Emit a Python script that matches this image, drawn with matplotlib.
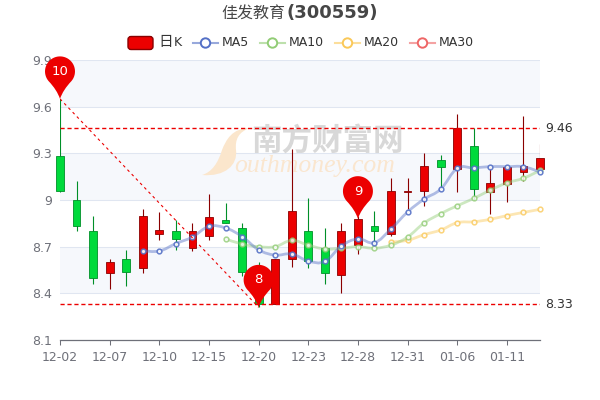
import numpy as np
import matplotlib
matplotlib.use("Agg")
import matplotlib.pyplot as plt
from matplotlib.path import Path
from matplotlib.patches import PathPatch, Circle, FancyBboxPatch
from matplotlib.transforms import Affine2D

plt.rcParams["font.family"] = ["DejaVu Sans", "Noto Sans CJK SC"]

opens = [9.28, 9.00, 8.80, 8.53, 8.62, 8.56, 8.78, 8.80, 8.69, 8.77, 8.87, 8.82, 8.50, 8.33, 8.62,
         8.80, 8.69, 8.52, 8.71, 8.83, 8.78, 9.05, 9.06, 9.26, 9.20, 9.35, 9.05, 9.10, 9.18, 9.20]
closes = [9.06, 8.83, 8.50, 8.60, 8.54, 8.90, 8.81, 8.75, 8.80, 8.89, 8.85, 8.54, 8.33, 8.62, 8.93,
          8.61, 8.53, 8.80, 8.88, 8.80, 9.06, 9.06, 9.22, 9.21, 9.46, 9.07, 9.11, 9.21, 9.22, 9.27]
highs = [9.65, 9.12, 8.90, 8.62, 8.68, 8.94, 8.92, 8.87, 8.85, 9.04, 8.98, 8.85, 8.60, 8.62, 9.33,
         9.01, 8.82, 8.85, 8.90, 8.93, 9.14, 9.14, 9.30, 9.29, 9.55, 9.46, 9.21, 9.21, 9.54, 9.36]
lows = [9.05, 8.80, 8.46, 8.43, 8.45, 8.53, 8.74, 8.68, 8.67, 8.74, 8.85, 8.51, 8.31, 8.33, 8.57,
        8.56, 8.46, 8.40, 8.65, 8.72, 8.77, 8.94, 8.96, 9.07, 9.05, 9.00, 8.91, 8.99, 9.12, 9.20]

ma5 = [8.674, 8.672, 8.72, 8.762, 8.83, 8.82, 8.765, 8.68, 8.646, 8.653, 8.608, 8.605, 8.704,
       8.75, 8.726, 8.814, 8.923, 9.006, 9.07, 9.203, 9.206, 9.215, 9.214, 9.214, 9.18]
ma10 = [8.75, 8.717, 8.70, 8.70, 8.74, 8.71, 8.685, 8.69, 8.70, 8.69, 8.71, 8.762, 8.852, 8.912,
        8.963, 9.01, 9.064, 9.11, 9.14, 9.19]
ma20 = [8.73, 8.741, 8.777, 8.807, 8.854, 8.86, 8.876, 8.90, 8.92, 8.94]

tick_pos = [0, 3, 6, 9, 12, 15, 18, 21, 24, 27]
tick_labels = ["12-02", "12-07", "12-10", "12-15", "12-20", "12-23", "12-28", "12-31", "01-06", "01-11"]
y_ticks = [8.1, 8.4, 8.7, 9.0, 9.3, 9.6, 9.9]
y_labels = ["8.1", "8.4", "8.7", "9", "9.3", "9.6", "9.9"]
mark_high = 9.46
mark_low = 8.33
# index, price and label of the three pins
pins = [(0, 9.65, "10"), (12, 8.31, "8"), (18, 8.88, "9")]

RED, RED_DARK = "#ec0000", "#8a0000"
GREEN, GREEN_DARK = "#00da3c", "#008f28"
GRAY = "#6e7079"
TEXT = "#333333"
MA_COLORS = {"MA5": "#5470c6", "MA10": "#91cc75", "MA20": "#fac858", "MA30": "#ee6666"}

fig = plt.figure(figsize=(6, 4), dpi=100)
ax = fig.add_axes([60 / 600, 60 / 400, 480 / 600, 280 / 400])
ax.set_xlim(0, 29)
ax.set_ylim(8.1, 9.9)

# pixel coordinates of the picture, y going down
px = Affine2D().scale(1, -1).translate(0, 400)

for s in ["top", "left", "right"]:
    ax.spines[s].set_visible(False)
ax.spines["bottom"].set_color(GRAY)
ax.spines["bottom"].set_linewidth(0.9)
ax.set_xticks(tick_pos)
ax.set_xticklabels(tick_labels)
ax.set_yticks(y_ticks)
ax.set_yticklabels(y_labels)
ax.tick_params(axis="x", colors=GRAY, labelsize=9, length=3.6, width=0.75, pad=4)
ax.tick_params(axis="y", colors=GRAY, labelsize=9, length=0, pad=6)

# split bands and grid
for lo, hi in [(9.6, 9.9), (9.0, 9.3), (8.4, 8.7)]:
    ax.axhspan(lo, hi, color="#f6f8fc", lw=0, zorder=0)
for v in y_ticks[1:]:
    ax.axhline(v, color="#e0e6f1", lw=0.75, zorder=0.5)

# watermark
swoosh = Path([(250, 128), (232, 128), (226, 140), (222, 150), (218, 163), (212, 172), (202, 175),
               (225, 177), (238, 165), (236, 150), (235, 140), (238, 132), (250, 128)],
              [Path.MOVETO] + [Path.CURVE4] * 12)
ax.add_patch(PathPatch(swoosh, transform=px, fc="#fbe6cc", ec="none", zorder=1))
ax.text(251, 141, "南方财富网", transform=px, fontsize=22, color="#d8d8d8", fontweight="bold",
        family=["Noto Sans CJK SC"], va="center", ha="left", zorder=1)
ax.text(234, 166, "outhmoney.com", transform=px, fontsize=18.5, color="#fae6cf", style="italic",
        family=["Liberation Serif"], va="center", ha="left", zorder=1)

# candles
x = np.arange(len(opens))
for i in x:
    up = closes[i] >= opens[i]
    ax.vlines(i, lows[i], highs[i], color=RED_DARK if up else GREEN_DARK, lw=0.8, zorder=3)
    ax.bar(i, abs(closes[i] - opens[i]), bottom=min(opens[i], closes[i]), width=0.47,
           color=RED if up else GREEN, edgecolor=RED_DARK if up else GREEN_DARK, lw=0.6, zorder=3,
           clip_on=False)


def smooth_path(xs, ys, t=0.2):
    pts = np.column_stack([xs, ys])
    verts = [pts[0]]
    codes = [Path.MOVETO]
    for i in range(len(pts) - 1):
        before = pts[max(i - 1, 0)]
        after = pts[min(i + 2, len(pts) - 1)]
        verts += [pts[i] + (pts[i + 1] - before) * t, pts[i + 1] - (after - pts[i]) * t, pts[i + 1]]
        codes += [Path.CURVE4] * 3
    return Path(verts, codes)


for name, vals in [("MA20", ma20), ("MA10", ma10), ("MA5", ma5)]:
    xs = np.arange(30 - len(vals), 30)
    c = MA_COLORS[name]
    ax.add_patch(PathPatch(smooth_path(xs, vals), fc="none", ec=c, lw=2, alpha=0.45, zorder=4))
    ax.plot(xs, vals, ls="none", marker="o", ms=3.4, mfc="white", mec=c, mew=1.1, zorder=5,
            alpha=0.9 if name == "MA5" else 0.8, clip_on=False)

# mark lines
ax.hlines([mark_high, mark_low], 0, 29, color=RED, lw=1, linestyles=[(0, (3, 2))], zorder=6)
ax.plot([pins[0][0], pins[1][0]], [pins[0][1], pins[1][1]], color=RED, lw=0.8,
        ls=(0, (2.5, 3)), zorder=6)
for v in [mark_high, mark_low]:
    ax.annotate(f"{v:.2f}", (29, v), xytext=(3.6, 0), textcoords="offset points",
                color=TEXT, fontsize=9, va="center", ha="left")

# pins
ang = np.radians(np.linspace(-40, 220, 40))
circ = np.column_stack([15 * np.cos(ang), 27.5 + 15 * np.sin(ang)])
pin_verts = list(circ) + [(-3, 9), (0, 0), (3, 9), circ[0]]
pin_codes = [Path.MOVETO] + [Path.LINETO] * 39 + [Path.CURVE3] * 4
pin = Path(pin_verts, pin_codes)
for i, v, label in pins:
    tip = ax.transData.transform((i, v))
    ax.add_patch(PathPatch(pin, transform=Affine2D().translate(*tip), fc=RED, ec="none",
                           zorder=7, clip_on=False))
    ax.text(tip[0], tip[1] + 27.5, label, transform=Affine2D(), color="white", fontsize=9.5,
            ha="center", va="center", zorder=8)

# title
ax.text(285, 13, "佳发教育", transform=px, family=["Noto Sans CJK SC"], fontsize=11.5,
        color="#464646", ha="right", va="center", fontweight="light", clip_on=False)
ax.text(286, 13, "(300559)", transform=px, fontsize=13, fontweight="bold",
        color="#464646", ha="left", va="center", clip_on=False)

# legend
ax.add_patch(FancyBboxPatch((128, 36.5), 25, 13, boxstyle="round,pad=0,rounding_size=3", transform=px,
                            fc=RED, ec=RED_DARK, lw=1, clip_on=False))
ax.text(158, 42, "日", transform=px, family=["Noto Sans CJK SC"], fontsize=10.5, color=TEXT,
        va="center", clip_on=False)
ax.text(174, 43, "K", transform=px, fontsize=9, color=TEXT, va="center", clip_on=False)
for name, x0 in [("MA5", 193), ("MA10", 260), ("MA20", 335), ("MA30", 410)]:
    c = MA_COLORS[name]
    ax.plot([x0, x0 + 25], [43, 43], transform=px, color=c, lw=1.5, alpha=0.6, clip_on=False)
    ax.add_patch(Circle((x0 + 12.5, 43), 4.7, transform=px, fc="white", ec=c, lw=1.4, clip_on=False, zorder=3))
    ax.text(x0 + 29, 43, name, transform=px, fontsize=9, color=TEXT, va="center", clip_on=False)

fig.savefig("out.png", dpi=100)
